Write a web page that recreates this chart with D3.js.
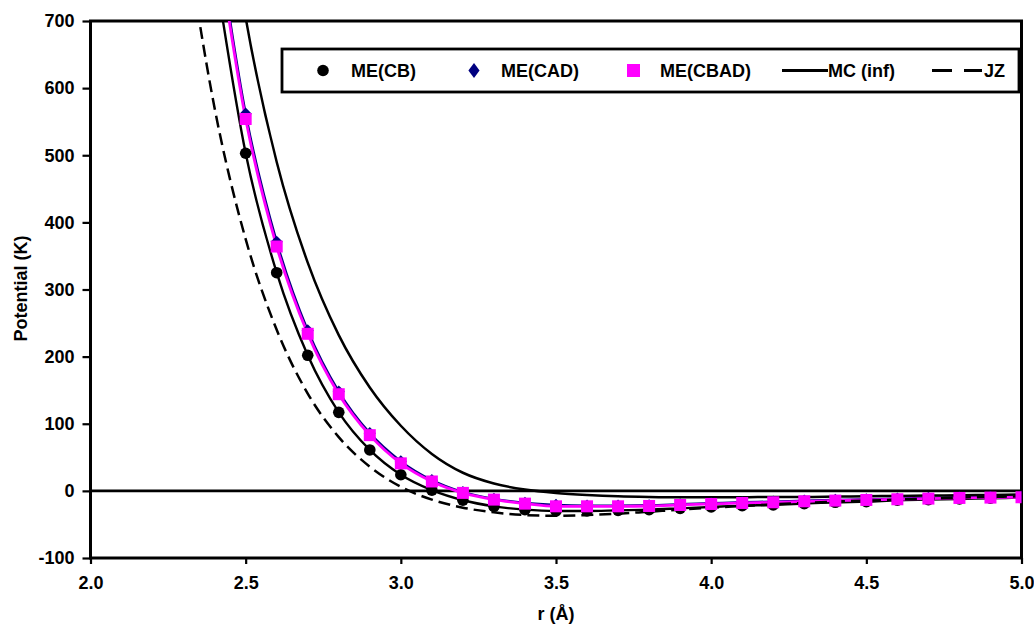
<!DOCTYPE html>
<html><head><meta charset="utf-8">
<script src="https://cdn.jsdelivr.net/npm/d3@7"></script>
<style>
body{margin:0;background:#fff}
text{font-family:Arial,"Liberation Sans",sans-serif;font-weight:bold;fill:#000}
</style>
</head><body>
<svg id="chart" width="1034" height="626"></svg>
<script>
// ---- data ----
const rME = [2.4,2.5,2.6,2.7,2.8,2.9,3.0,3.1,3.2,3.3,3.4,3.5,3.6,3.7,3.8,3.9,4.0,4.1,4.2,4.3,4.4,4.5,4.6,4.7,4.8,4.9,5.0];
const meCB   = [780,503,325,202,117,61,24,1,-14,-23,-28,-30,-30,-29,-28,-26,-24,-22,-21,-19,-17,-16,-14,-13,-12,-11,-10];
const meCAD  = [855,562,371,239,148,86,44,16,-2,-12,-18,-21,-22,-22,-21.5,-20,-18.5,-17,-16,-14.5,-13.5,-12.5,-11.5,-10.5,-9.5,-9,-8.5];
const meCBAD = [845,554,364,234,144,83,41,14,-3,-13,-19,-23,-23,-23,-22.5,-21,-19.5,-18,-17,-15.5,-14.5,-13.5,-12.5,-11.5,-10.5,-10,-9.5];
const rRef = [2.3,2.4,2.5,2.6,2.7,2.8,2.9,3.0,3.1,3.2,3.3,3.4,3.5,3.6,3.7,3.8,3.9,4.0,4.1,4.2,4.3,4.4,4.5,4.6,4.7,4.8,4.9,5.0];
const mcInf = [1500,1020,705,490,340,232,154,97,55,27,11,2,-3,-6,-8,-9,-9.5,-9.5,-9.5,-9,-9,-8.5,-8,-7.5,-7,-6.5,-6,-5.5];
const jz    = [850,570,375,240,145,80,36,6,-13,-25,-32,-36,-37,-36,-34,-31,-28,-25,-22.5,-20,-18,-16,-14.5,-13,-11.5,-10,-9,-8];
const markerStart = 2.5;
const xTicks = [2.0,2.5,3.0,3.5,4.0,4.5,5.0];
const yTicks = [-100,0,100,200,300,400,500,600,700];
const legendLabels = ["ME(CB)","ME(CAD)","ME(CBAD)","MC (inf)","JZ"];

// ---- layout ----
const svg = d3.select("#chart");
const L = 90.5, R = 1021.5, T = 21, B = 558;
const x = d3.scaleLinear().domain([2,5]).range([L,R]);
const y = d3.scaleLinear().domain([-100,700]).range([B,T]);
const FS = 18;

svg.append("defs").append("clipPath").attr("id","clip")
  .append("rect").attr("x",L).attr("y",T).attr("width",R-L).attr("height",B-T);

// axes
const gx = svg.append("g").attr("transform",`translate(0,${B})`)
  .call(d3.axisBottom(x).tickValues(xTicks).tickSize(6).tickPadding(12).tickFormat(d=>d.toFixed(1)));
const gy = svg.append("g").attr("transform",`translate(${L},0)`)
  .call(d3.axisLeft(y).tickValues(yTicks).tickSize(8).tickPadding(8).tickFormat(d=>String(d)));
[gx,gy].forEach(g=>{
  g.select(".domain").remove();
  g.selectAll(".tick line").attr("stroke","#000").attr("stroke-width",2.2);
  g.selectAll(".tick text").attr("font-size",FS).attr("font-family","Arial, Liberation Sans, sans-serif").attr("font-weight","bold");
});

// frame
svg.append("rect").attr("x",L).attr("y",T).attr("width",R-L).attr("height",B-T)
  .attr("fill","none").attr("stroke","#000").attr("stroke-width",3);
// zero line
svg.append("line").attr("x1",L).attr("x2",R).attr("y1",y(0)).attr("y2",y(0))
  .attr("stroke","#000").attr("stroke-width",2.6);

// titles
svg.append("text").attr("x",(L+R)/2).attr("y",620).attr("text-anchor","middle").attr("font-size",FS).text("r (Å)");
svg.append("text").attr("transform",`translate(27,${(T+B)/2 - 1}) rotate(-90)`).attr("text-anchor","middle").attr("font-size",FS).text("Potential (K)");

const plot = svg.append("g").attr("clip-path","url(#clip)");
const line = d3.line().x(d=>x(d[0])).y(d=>y(d[1])).curve(d3.curveMonotoneX);
const zip = (rs,vs)=>rs.map((r,i)=>[r,vs[i]]);

// series lines
plot.append("path").datum(zip(rME,meCB)).attr("d",line).attr("fill","none").attr("stroke","#000").attr("stroke-width",2.4);
plot.append("path").datum(zip(rME,meCAD)).attr("d",line).attr("fill","none").attr("stroke","#000080").attr("stroke-width",2.4);
plot.append("path").datum(zip(rME,meCBAD)).attr("d",line).attr("fill","none").attr("stroke","#ff00ff").attr("stroke-width",2.8);
plot.append("path").datum(zip(rRef,mcInf)).attr("d",line).attr("fill","none").attr("stroke","#000").attr("stroke-width",2.5);
plot.append("path").datum(zip(rRef,jz)).attr("d",line).attr("fill","none").attr("stroke","#000").attr("stroke-width",2.5).attr("stroke-dasharray","12,6");

// markers
const mk = (rs,vs)=>zip(rs,vs).filter(d=>d[0]>=markerStart-1e-9);
plot.selectAll(".cb").data(mk(rME,meCB)).join("circle").attr("cx",d=>x(d[0])).attr("cy",d=>y(d[1])).attr("r",5.8).attr("fill","#000");
const diamond = d3.symbol().type(d3.symbolDiamond2).size(95);
plot.selectAll(".cad").data(mk(rME,meCAD)).join("path").attr("d",diamond).attr("transform",d=>`translate(${x(d[0])},${y(d[1])})`).attr("fill","#000080");
plot.selectAll(".cbad").data(mk(rME,meCBAD)).join("rect").attr("x",d=>x(d[0])-6).attr("y",d=>y(d[1])-6).attr("width",12).attr("height",12).attr("fill","#ff00ff");

// legend
const lg = svg.append("g");
lg.append("rect").attr("x",282).attr("y",49).attr("width",737).attr("height",43).attr("fill","#fff").attr("stroke","#000").attr("stroke-width",2.8);
const ly = 70.5;
lg.append("circle").attr("cx",323).attr("cy",ly).attr("r",5.8).attr("fill","#000");
lg.append("path").attr("d",d3.symbol().type(d3.symbolDiamond2).size(110)).attr("transform",`translate(474,${ly}) scale(0.85,1.15)`).attr("fill","#000080");
lg.append("rect").attr("x",627).attr("y",ly-6.5).attr("width",13).attr("height",13).attr("fill","#ff00ff");
lg.append("line").attr("x1",782).attr("x2",828).attr("y1",ly).attr("y2",ly).attr("stroke","#000").attr("stroke-width",2.8);
lg.append("line").attr("x1",932).attr("x2",982).attr("y1",ly).attr("y2",ly).attr("stroke","#000").attr("stroke-width",2.8).attr("stroke-dasharray","20,12");
const lx = [351,501,660,828,984];
lg.selectAll(".lt").data(legendLabels).join("text").attr("x",(d,i)=>lx[i]).attr("y",ly+6.5).attr("font-size",18).text(d=>d);
</script>
</body></html>
